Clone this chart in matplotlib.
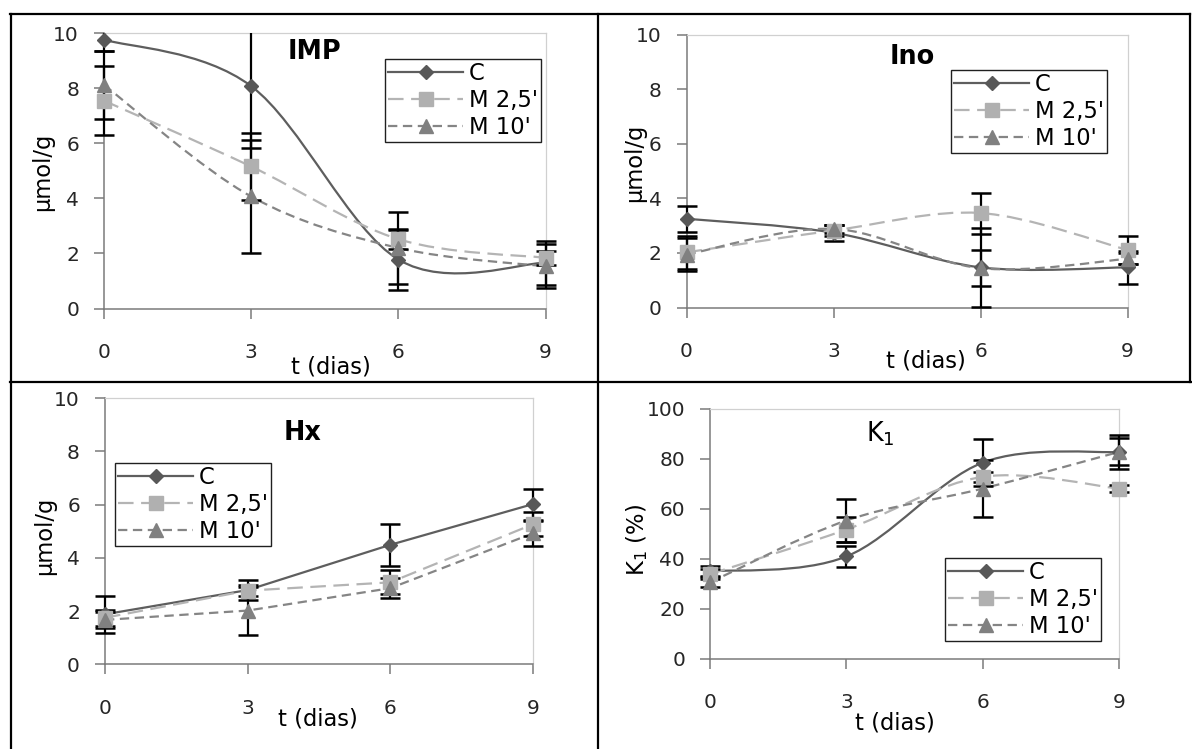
import matplotlib
matplotlib.use("Agg")
import matplotlib.pyplot as plt
from matplotlib.path import Path
from matplotlib.patches import PathPatch
from matplotlib.lines import Line2D
from matplotlib.transforms import Bbox, TransformedBbox
import numpy as np

plt.rcParams['font.family'] = ['DejaVu Sans']
plt.rcParams['mathtext.fontset'] = 'dejavusans'

# ---------------- data ----------------
t_days = [0, 3, 6, 9]
series_names = ['C', "M 2,5'", "M 10'"]

imp_c = [9.77, 8.08, 1.78, 1.66]
imp_m25 = [7.55, 5.16, 2.52, 1.84]
imp_m10 = [8.12, 4.07, 2.20, 1.53]
imp_c_err = [0.40, 2.25, 1.10, 0.80]
imp_m25_err = [1.25, 1.23, 0.35, 0.25]
imp_m10_err = [1.25, 2.05, 1.30, 0.80]

ino_c = [3.25, 2.74, 1.47, 1.47]
ino_m25 = [2.02, 2.82, 3.46, 2.11]
ino_m10 = [1.94, 2.88, 1.44, 1.78]
ino_c_err = [0.47, 0.30, 1.45, 0.60]
ino_m25_err = [0.60, 0.20, 0.75, 0.50]
ino_m10_err = [0.60, 0.15, 0.65, 0.20]

hx_c = [1.88, 2.79, 4.49, 6.02]
hx_m25 = [1.75, 2.77, 3.08, 5.26]
hx_m10 = [1.67, 2.02, 2.86, 4.92]
hx_c_err = [0.70, 0.38, 0.80, 0.58]
hx_m25_err = [0.30, 0.20, 0.45, 0.45]
hx_m10_err = [0.30, 0.90, 0.38, 0.46]

k1_c = [34.9, 40.9, 78.5, 82.8]
k1_m25 = [33.8, 51.7, 72.8, 68.1]
k1_m10 = [30.5, 55.3, 68.1, 82.8]
k1_c_err = [2.0, 4.2, 9.5, 6.7]
k1_m25_err = [2.0, 5.0, 2.0, 1.5]
k1_m10_err = [2.0, 8.7, 11.5, 5.4]

conc_ticks = [0, 2, 4, 6, 8, 10]
k1_ticks = [0, 20, 40, 60, 80, 100]
x_ticks = [0, 3, 6, 9]

# ---------------- styles ----------------
W, H = 1192, 749
styles = [
    dict(color='#5e5e5e', mfc='#585858', marker='D', ms=7, ls='-'),
    dict(color='#b4b4b4', mfc='#b0b0b0', marker='s', ms=9.5, ls=(0, (7.0, 3.4))),
    dict(color='#858585', mfc='#808080', marker='^', ms=9.5, ls=(0, (4.2, 2.5))),
]
LW = 1.6


def smooth_path(x, y):
    pts = np.column_stack([x, y]).astype(float)
    n = len(pts)
    verts = [pts[0]]
    codes = [Path.MOVETO]
    for i in range(n - 1):
        p0 = pts[i - 1] if i > 0 else pts[i]
        p1 = pts[i]
        p2 = pts[i + 1]
        p3 = pts[i + 2] if i + 2 < n else pts[i + 1]
        c1 = p1 + (p2 - p0) / 6.0
        c2 = p2 - (p3 - p1) / 6.0
        verts += [c1, c2, p2]
        codes += [Path.CURVE4] * 3
    return Path(verts, codes)


def rect(x0, y0, x1, y1):
    return [x0 / W, 1 - y1 / H, (x1 - x0) / W, (y1 - y0) / H]


fig = plt.figure(figsize=(W / 100, H / 100), dpi=100)

panels = [
    dict(rect=rect(104, 33.3, 545.5, 308.5), vals=(imp_c, imp_m25, imp_m10),
         errs=(imp_c_err, imp_m25_err, imp_m10_err), ymax=10, yticks=conc_ticks,
         smooth=True, title='IMP', tbold=True, tpos=(314, 52),
         ylabel='μmol/g', ylpos=(43, 172), xlpos=(331, 367), legpos=(385, 59)),
    dict(rect=rect(686.5, 34.5, 1127.5, 307.5), vals=(ino_c, ino_m25, ino_m10),
         errs=(ino_c_err, ino_m25_err, ino_m10_err), ymax=10, yticks=conc_ticks,
         smooth=True, title='Ino', tbold=True, tpos=(912, 57),
         ylabel='μmol/g', ylpos=(635, 163), xlpos=(926, 361), legpos=(951, 70)),
    dict(rect=rect(105, 398.3, 532.7, 664.3), vals=(hx_c, hx_m25, hx_m10),
         errs=(hx_c_err, hx_m25_err, hx_m10_err), ymax=10, yticks=conc_ticks,
         smooth=False, title='Hx', tbold=True, tpos=(303, 433),
         ylabel='μmol/g', ylpos=(45, 536), xlpos=(318, 719), legpos=(115, 463)),
    dict(rect=rect(710, 409, 1119, 658.5), vals=(k1_c, k1_m25, k1_m10),
         errs=(k1_c_err, k1_m25_err, k1_m10_err), ymax=100, yticks=k1_ticks,
         smooth=True, title='K$_1$', tbold=False, tpos=(880, 434),
         ylabel='K$_1$ (%)', ylpos=(637, 540), xlpos=(895, 723), legpos=(945, 558)),
]

for p in panels:
    ax = fig.add_axes(p['rect'])
    ax.set_xlim(0, 9)
    ax.set_ylim(0, p['ymax'])
    ax.set_xticks(x_ticks)
    ax.set_yticks(p['yticks'])
    for s in ['left', 'bottom']:
        ax.spines[s].set_color('#7a7a7a')
        ax.spines[s].set_linewidth(1.1)
    for s in ['top', 'right']:
        ax.spines[s].set_color('#d0d0d0')
        ax.spines[s].set_linewidth(0.9)
    ax.tick_params(axis='both', direction='out', length=7, width=1.1,
                   color='#7a7a7a', labelsize=14.5, labelcolor='#262626')
    ax.tick_params(axis='x', pad=18)
    ax.tick_params(axis='y', pad=11)

    clipbox = TransformedBbox(Bbox.from_extents(-1, 0, 10, p['ymax']), ax.transData)
    handles = []
    for vals, err, st, name in zip(p['vals'], p['errs'], styles, series_names):
        cont = ax.errorbar(t_days, vals, yerr=err, fmt='none', ecolor='black',
                           elinewidth=1.6, capsize=7.5, capthick=1.8, zorder=3)
        for a in list(cont.lines[1]) + list(cont.lines[2]):
            a.set_clip_path(None)
            a.set_clip_box(clipbox)
        if p['smooth']:
            patch = PathPatch(smooth_path(t_days, vals), facecolor='none',
                              edgecolor=st['color'], lw=LW, linestyle=st['ls'],
                              zorder=2.8, clip_on=False, capstyle='butt')
            ax.add_patch(patch)
        else:
            ax.plot(t_days, vals, color=st['color'], lw=LW, ls=st['ls'],
                    zorder=2.8, clip_on=False)
        ax.plot(t_days, vals, ls='none', marker=st['marker'], ms=st['ms'],
                mfc=st['mfc'], mec=st['mfc'], zorder=4, clip_on=False)
        handles.append(Line2D([], [], color=st['color'], lw=LW, ls=st['ls'],
                              marker=st['marker'], ms=st['ms'], mfc=st['mfc'],
                              mec=st['mfc'], label=name))

    leg = ax.legend(handles=handles, loc='upper left',
                    bbox_to_anchor=(p['legpos'][0] / W, 1 - p['legpos'][1] / H),
                    bbox_transform=fig.transFigure, borderaxespad=0,
                    fontsize=16.3, frameon=True, fancybox=False, shadow=False,
                    edgecolor='#202020', framealpha=1, handlelength=3.3,
                    handletextpad=0.25, borderpad=0.14, labelspacing=0.18,
                    numpoints=1)
    leg.get_frame().set_linewidth(1.0)
    leg.set_zorder(6)

    fig.text(p['tpos'][0] / W, 1 - p['tpos'][1] / H, p['title'],
             fontsize=18.4, fontweight='bold' if p['tbold'] else 'normal',
             ha='center', va='center', color='black')
    fig.text(p['ylpos'][0] / W, 1 - p['ylpos'][1] / H, p['ylabel'],
             fontsize=16.3, rotation=90, ha='center', va='center', color='black')
    fig.text(p['xlpos'][0] / W, 1 - p['xlpos'][1] / H, 't (dias)',
             fontsize=16.3, ha='center', va='center', color='black')

# table borders
def hline(y, x0, x1):
    fig.add_artist(Line2D([x0 / W, x1 / W], [1 - y / H, 1 - y / H],
                          transform=fig.transFigure, color='black', lw=1.6))

def vline(x, y0, y1):
    fig.add_artist(Line2D([x / W, x / W], [1 - y0 / H, 1 - y1 / H],
                          transform=fig.transFigure, color='black', lw=1.6))

hline(14, 10, 1190)
hline(382, 10, 1192)
vline(10.5, 14, 749)
vline(598, 14, 749)
vline(1189.5, 14, 382)

fig.savefig('out.png', dpi=100)
